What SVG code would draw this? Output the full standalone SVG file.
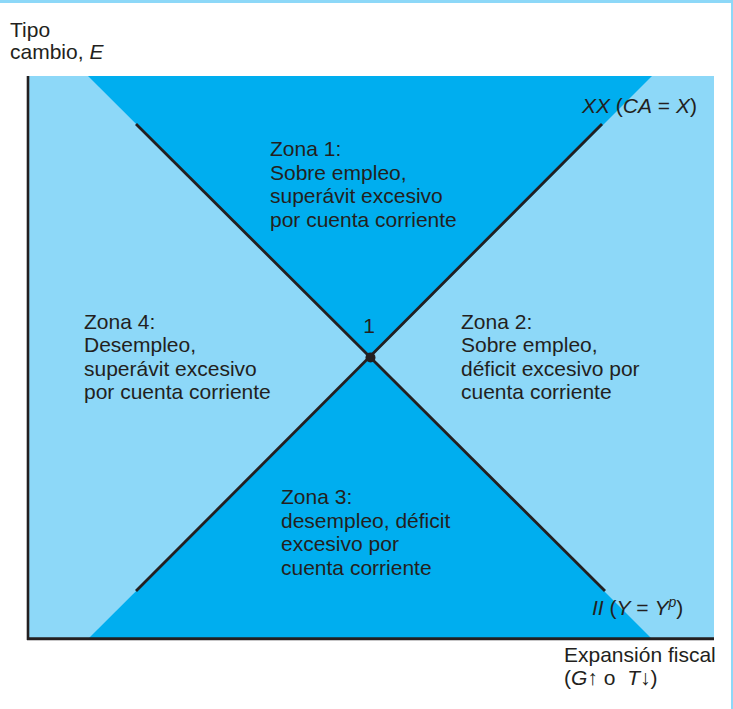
<svg xmlns="http://www.w3.org/2000/svg" width="733" height="709" viewBox="0 0 733 709">
<style>
text{font-family:"Liberation Sans",Arial,sans-serif;font-size:21px;fill:#231F20}
.it{font-style:italic}
.light{fill:#8DD8F8}
.dark{fill:#00AEEF}
.curve{stroke:#231F20;stroke-width:2.8;fill:none}
.axis{stroke:#231F20;fill:none}
</style>
<rect x="0" y="0" width="733" height="709" fill="#ffffff"/>
<rect x="0" y="0" width="733" height="3" class="light"/>
<rect x="731" y="0" width="2" height="709" class="light"/>
<g id="regions">
<rect x="28" y="76" width="686" height="563" class="light"/>
<polygon points="88,76 652,76 370.5,357.5" class="dark"/>
<polygon points="88,639 652,639 370.5,357.5" class="dark"/>
</g>
<g id="axes">
<line x1="28" y1="76" x2="28" y2="640" class="axis" stroke-width="2.6"/>
<line x1="27" y1="638.8" x2="714" y2="638.8" class="axis" stroke-width="3"/>
</g>
<g id="connectors">
<line id="II" x1="136" y1="124" x2="605" y2="591" class="curve"/>
<line id="XX" x1="136" y1="591" x2="602" y2="124" class="curve"/>
</g>
<g id="point1">
<circle cx="370.5" cy="357.5" r="5" fill="#231F20"/>
<text x="369" y="333" text-anchor="middle">1</text>
</g>
<g id="zona1">
<text x="270" y="156">Zona 1:</text>
<text x="270" y="179.5">Sobre empleo,</text>
<text x="270" y="203">superávit excesivo</text>
<text x="270" y="226.5">por cuenta corriente</text>
</g>
<g id="zona2">
<text x="461" y="328.5">Zona 2:</text>
<text x="461" y="352">Sobre empleo,</text>
<text x="461" y="375.5">déficit excesivo por</text>
<text x="461" y="399">cuenta corriente</text>
</g>
<g id="zona3">
<text x="281" y="504">Zona 3:</text>
<text x="281" y="527.5">desempleo, déficit</text>
<text x="281" y="551">excesivo por</text>
<text x="281" y="574.5">cuenta corriente</text>
</g>
<g id="zona4">
<text x="84" y="328.5">Zona 4:</text>
<text x="84" y="352">Desempleo,</text>
<text x="84" y="375.5">superávit excesivo</text>
<text x="84" y="399">por cuenta corriente</text>
</g>
<g id="label-XX">
<text x="582" y="113"><tspan class="it">XX</tspan> (<tspan class="it">CA</tspan> = <tspan class="it">X</tspan>)</text>
</g>
<g id="label-II">
<text x="592" y="615"><tspan class="it">II</tspan> (<tspan class="it">Y</tspan> = <tspan class="it">Y</tspan><tspan class="it" font-size="14" dy="-8">p</tspan><tspan dy="8">)</tspan></text>
</g>
<g id="y-label">
<text x="10" y="37">Tipo</text>
<text x="10" y="59">cambio, <tspan class="it">E</tspan></text>
</g>
<g id="x-label">
<text x="564" y="662">Expansión fiscal</text>
<text x="564" y="684.5">(<tspan class="it">G</tspan>↑ o <tspan class="it" dx="6">T</tspan>↓)</text>
</g>
</svg>
